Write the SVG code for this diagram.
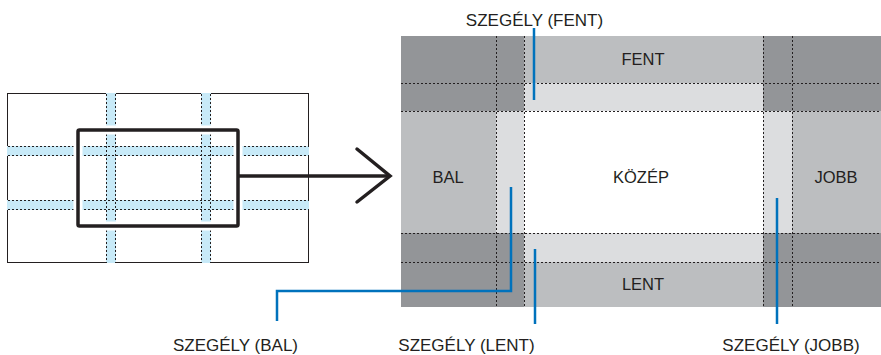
<svg xmlns="http://www.w3.org/2000/svg" width="881" height="355" viewBox="0 0 881 355">
<style>
.lbl{font-family:"Liberation Sans",Arial,sans-serif;font-size:16.5px;fill:#231f20;text-anchor:middle}
.cap{font-family:"Liberation Sans",Arial,sans-serif;font-size:17px;fill:#231f20;text-anchor:middle}
.dash{stroke:#231f20;stroke-width:1;stroke-dasharray:2 2;fill:none}
.band{fill:#c8eaf8}
.dark{fill:#939598}
.mid{fill:#bcbec0}
.light{fill:#dcdddf}
.blue{stroke:#0072bc;stroke-width:2.5;fill:none}
</style>
<rect width="881" height="355" fill="#fff"/>
<g id="screen">
<rect x="7.5" y="93.5" width="301" height="169" fill="#fff" stroke="#231f20" stroke-width="1"/>
<rect class="band" x="106" y="93" width="10" height="170"/>
<rect class="band" x="201" y="93" width="10" height="170"/>
<rect class="band" x="7" y="146" width="302" height="10"/>
<rect class="band" x="7" y="200" width="302" height="10"/>
<path class="dash" d="M106.5,94V263M115.5,94V263M201.5,94V263M210.5,94V263M8,146.5H309M8,155.5H309M8,200.5H309M8,209.5H309"/>
<rect x="78" y="130" width="160" height="96" fill="none" stroke="#fff" stroke-width="9"/>
<rect x="78" y="130" width="160" height="96" rx="1.5" fill="none" stroke="#231f20" stroke-width="3.5"/>
</g>
<g id="regions">
<g id="corner-tl"><rect class="dark" x="401" y="36" width="123" height="75"/></g>
<g id="corner-tr"><rect class="dark" x="763" y="36" width="118" height="75"/></g>
<g id="corner-bl"><rect class="dark" x="401" y="233" width="123" height="74"/></g>
<g id="corner-br"><rect class="dark" x="763" y="233" width="118" height="74"/></g>
<g id="fent"><rect class="mid" x="524" y="36" width="239" height="47"/><text class="lbl" x="643" y="65">FENT</text></g>
<g id="border-fent"><rect class="light" x="524" y="83" width="239" height="28"/></g>
<g id="bal"><rect class="mid" x="401" y="111" width="95" height="122"/><text class="lbl" x="448" y="183">BAL</text></g>
<g id="border-bal"><rect class="light" x="496" y="111" width="28" height="122"/></g>
<g id="kozep"><rect fill="#fff" x="524" y="111" width="239" height="122"/><text class="lbl" x="641" y="183">KÖZÉP</text></g>
<g id="border-jobb"><rect class="light" x="763" y="111" width="29" height="122"/></g>
<g id="jobb"><rect class="mid" x="792" y="111" width="89" height="122"/><text class="lbl" x="836" y="183">JOBB</text></g>
<g id="border-lent"><rect class="light" x="524" y="233" width="239" height="29"/></g>
<g id="lent"><rect class="mid" x="524" y="262" width="239" height="45"/><text class="lbl" x="643" y="290">LENT</text></g>
<path class="dash" d="M496.5,36V307M524.5,36V307M763.5,36V307M792.5,36V307M401,83.5H881M401,111.5H881M401,233.5H881M401,262.5H881"/>
</g>
<g id="connectors">
<path d="M238,176H389" stroke="#231f20" stroke-width="3.5" fill="none"/>
<path d="M357,149L390,176L357,202" stroke="#231f20" stroke-width="3.5" fill="none" stroke-linecap="round" stroke-linejoin="miter"/>
<path class="blue" d="M534,28V100"/>
<path class="blue" d="M511,187V291H277V321"/>
<path class="blue" d="M535,249V324"/>
<path class="blue" d="M777,198V324"/>
</g>
<g id="labels">
<text class="cap" x="534.5" y="26">SZEGÉLY (FENT)</text>
<text class="cap" x="235.5" y="351">SZEGÉLY (BAL)</text>
<text class="cap" x="466.5" y="351">SZEGÉLY (LENT)</text>
<text class="cap" x="791" y="351">SZEGÉLY (JOBB)</text>
</g>
</svg>
